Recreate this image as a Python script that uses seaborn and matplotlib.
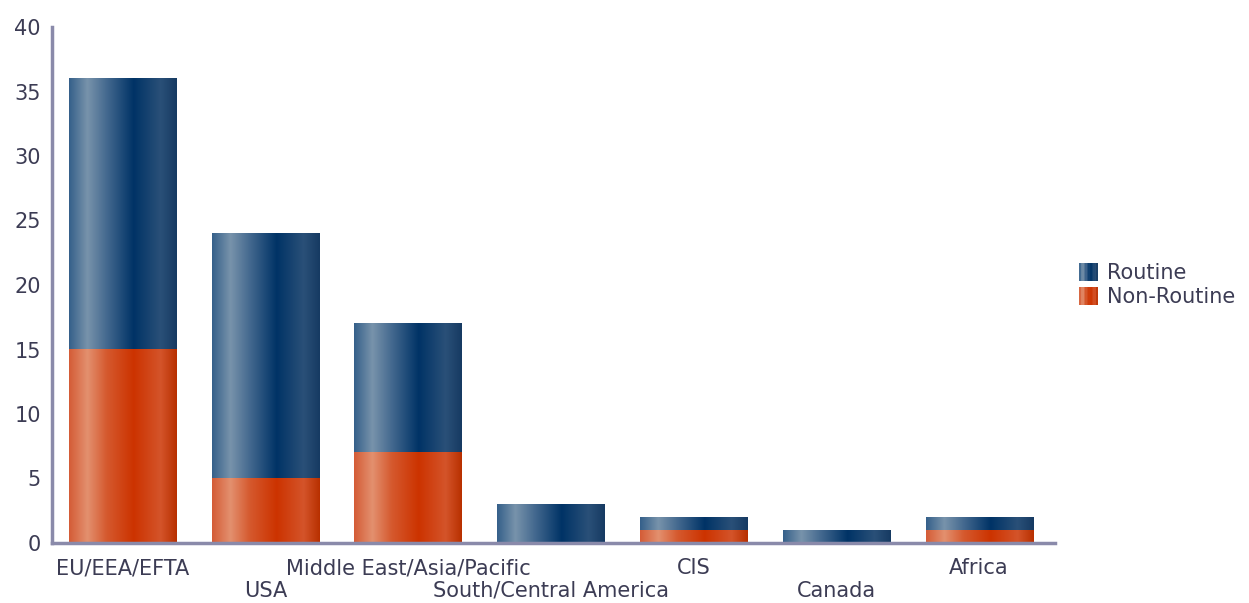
import numpy as np
import pandas as pd
import matplotlib
matplotlib.use("Agg")
import matplotlib.pyplot as plt
import seaborn as sns
from matplotlib.colors import LinearSegmentedColormap
from matplotlib.patches import Rectangle
from matplotlib.legend_handler import HandlerBase

categories = ["EU/EEA/EFTA", "USA", "Middle East/Asia/Pacific", "South/Central America",
              "CIS", "Canada", "Africa"]
routine = [21, 19, 10, 3, 1, 1, 1]
non_routine = [15, 5, 7, 0, 1, 0, 1]
yticks = [0, 5, 10, 15, 20, 25, 30, 35, 40]

sns.set_theme(style="white")
plt.rcParams['font.family'] = ['DejaVu Sans']

blue_cmap = LinearSegmentedColormap.from_list("blue", [
    (0.0, "#35608a"), (0.17, "#7893ab"), (0.35, "#44698f"), (0.6, "#003366"),
    (0.85, "#2a5078"), (1.0, "#163a62")])
orange_cmap = LinearSegmentedColormap.from_list("orange", [
    (0.0, "#d45c36"), (0.17, "#e3906f"), (0.35, "#d5592e"), (0.6, "#cc3300"),
    (0.85, "#d4542a"), (1.0, "#b83000")])

df = pd.DataFrame({"cat": categories,
                   "total": np.array(routine) + np.array(non_routine),
                   "non": non_routine})

fig = plt.figure(figsize=(12.49, 6.03), dpi=100)
ax = fig.add_axes([52/1249, 60/603, (1055-52)/1249, (543-27)/603])

sns.barplot(data=df, x="cat", y="total", color="#003366", width=0.75, ax=ax, saturation=1)
n_first = len(ax.patches)
sns.barplot(data=df, x="cat", y="non", color="#cc3300", width=0.75, ax=ax, saturation=1)

grad = np.linspace(0, 1, 256).reshape(1, -1)
for i, p in enumerate(list(ax.patches)):
    x0, y0 = p.get_x(), p.get_y()
    w, h = p.get_width(), p.get_height()
    p.set_visible(False)
    if h <= 0:
        continue
    cmap = blue_cmap if i < n_first else orange_cmap
    ax.imshow(grad, cmap=cmap, extent=(x0, x0 + w, y0, y0 + h), aspect="auto",
              interpolation="bilinear", zorder=2 + (1 if i >= n_first else 0))

txt_color = "#3c3c54"
ax.set_xlim(-0.494, 6.532)
ax.set_ylim(0, 40)
ax.set_yticks(yticks)
ax.set_yticklabels([str(v) for v in yticks], fontsize=15, color=txt_color)
ax.set_xlabel("")
ax.set_ylabel("")
ax.set_xticks(range(len(categories)))
ax.set_xticklabels([])
for i, c in enumerate(categories):
    ax.annotate(c, xy=(i, 0), xycoords=("data", "axes fraction"),
                xytext=(0, -18 if i % 2 == 0 else -34.5), textcoords="offset points",
                ha="center", va="center", fontsize=15, color=txt_color)
ax.tick_params(axis="both", length=0, pad=8)
for s in ["top", "right"]:
    ax.spines[s].set_visible(False)
for s in ["left", "bottom"]:
    ax.spines[s].set_color("#8a8aaa")
    ax.spines[s].set_linewidth(2.5)
    ax.spines[s].set_zorder(5)


class GradHandler(HandlerBase):
    def __init__(self, cmap):
        super().__init__()
        self.cmap = cmap

    def create_artists(self, legend, orig_handle, xdescent, ydescent, width, height, fontsize, trans):
        n = 12
        arts = []
        for k in range(n):
            r = Rectangle((-xdescent + width * k / n, -ydescent), width / n + 0.3, height,
                          facecolor=self.cmap((k + 0.5) / n), edgecolor="none", transform=trans)
            arts.append(r)
        return arts


class H1: pass
class H2: pass

h1, h2 = H1(), H2()
fig.legend([h1, h2], ["Routine", "Non-Routine"],
           handler_map={h1: GradHandler(blue_cmap), h2: GradHandler(orange_cmap)},
           loc="center left", bbox_to_anchor=(1079/1249, 1 - 285/603), frameon=False,
           borderpad=0, borderaxespad=0,
           fontsize=15, handlelength=0.9, handleheight=0.95, handletextpad=0.45,
           labelspacing=0.2, labelcolor=txt_color)

fig.savefig("out.png", dpi=100)
